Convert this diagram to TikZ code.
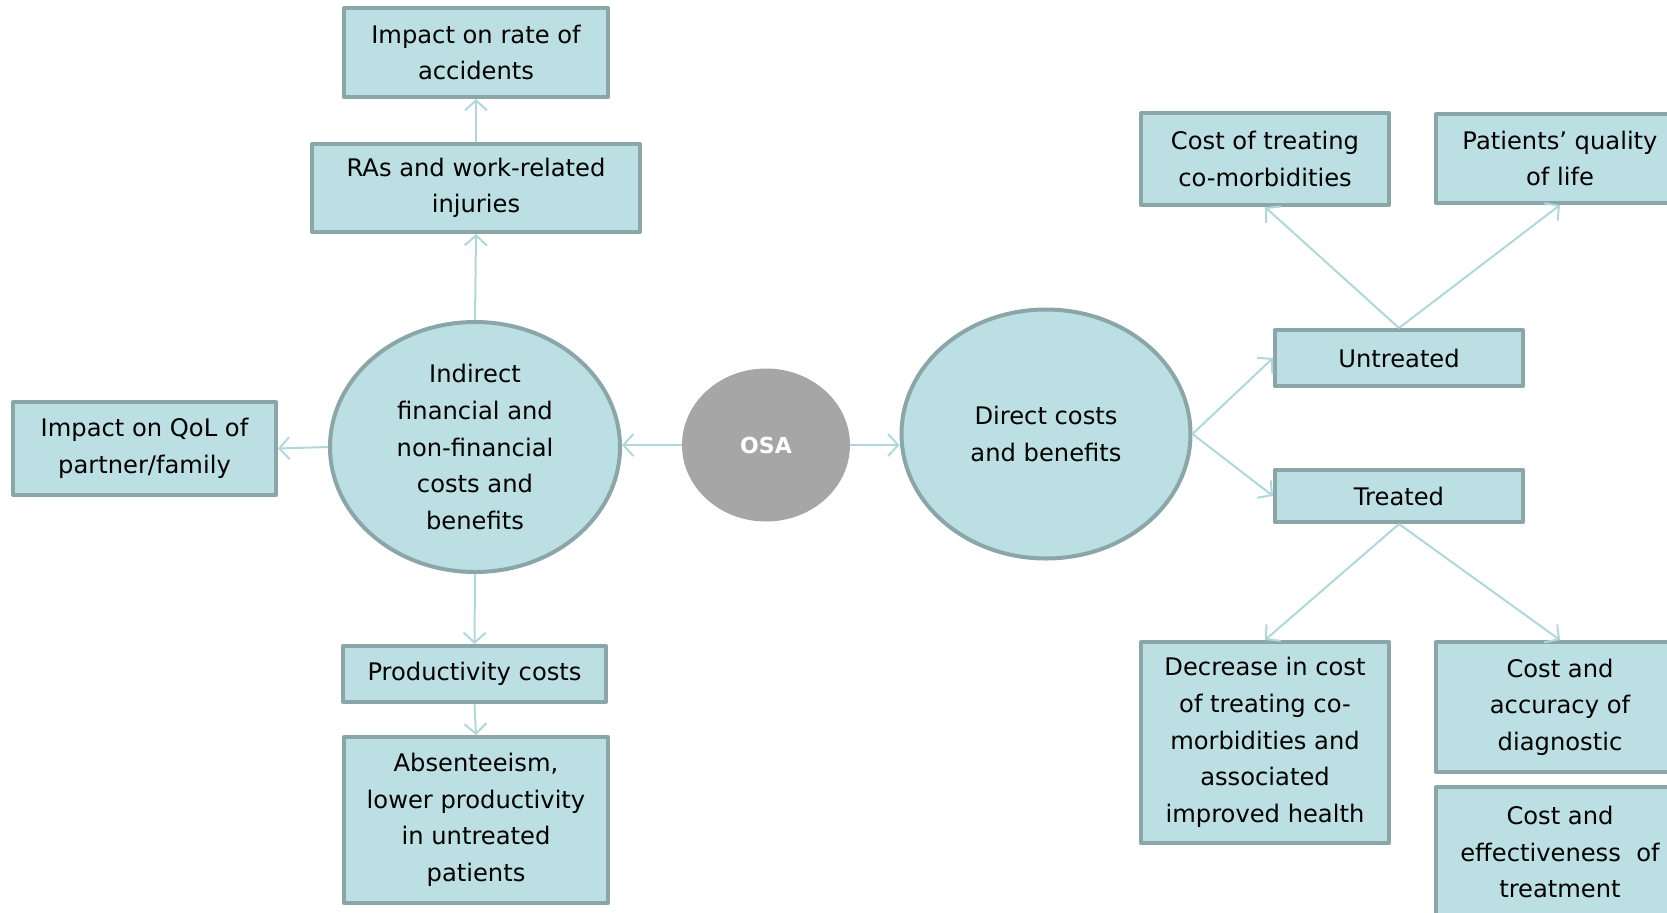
\documentclass[tikz,border=0pt]{standalone}
\usepackage{fontspec}
\setmainfont{DejaVu Sans}
\usetikzlibrary{arrows.meta,shapes.geometric}
\definecolor{boxfill}{HTML}{BBDFE3}
\definecolor{boxline}{HTML}{8BA6A9}
\definecolor{linkcol}{HTML}{B0D8DC}
\definecolor{osagray}{HTML}{A6A6A6}
\begin{document}
\begin{tikzpicture}[x=0.5pt,y=-0.5pt,line join=round,
  >={Straight Barb[length=5pt,width=11pt]},
  box/.style={draw=boxline,fill=boxfill,line width=2pt,rectangle,align=center,inner sep=0pt,
    font=\fontsize{12.1}{18.3}\selectfont},
  oval/.style={draw=boxline,fill=boxfill,line width=2pt,ellipse,align=center,inner sep=0pt,
    font=\fontsize{12.1}{18.3}\selectfont},
  link/.style={->,draw=linkcol,line width=1pt}]
 \useasboundingbox (0,0) rectangle (1667,912);
 \clip (0,0) rectangle (1667,912);
 % centre
 \node[ellipse,fill=osagray,minimum width=84pt,minimum height=76.5pt,text=white,
   font=\fontsize{11}{13}\selectfont\bfseries] (osa) at (766,445) {OSA};
 % indirect side
 \node[oval,minimum width=145pt,minimum height=125pt] (ind) at (475,447) {Indirect\\financial and\\non-financial\\costs and\\benefits};
 \node[box,minimum width=164pt,minimum height=44pt] (ras) at (476,188) {RAs and work-related\\injuries};
 \node[box,minimum width=132pt,minimum height=44.5pt] (acc) at (476,52.5) {Impact on rate of\\accidents};
 \node[box,minimum width=131.5pt,minimum height=46.5pt] (qol) at (144.5,448.5) {Impact on QoL of\\partner/family};
 \node[box,minimum width=131.5pt,minimum height=28pt] (prod) at (474.5,674) {Productivity costs};
 \node[box,minimum width=132pt,minimum height=83pt] (abs) at (476,820) {Absenteeism,\\lower productivity\\in untreated\\patients};
 % direct side
 \node[oval,minimum width=144.5pt,minimum height=124.5pt] (dir) at (1046,434) {Direct costs\\and benefits};
 \node[box,minimum width=124pt,minimum height=28pt] (untr) at (1399,358) {Untreated};
 \node[box,minimum width=124pt,minimum height=26pt] (trt) at (1399,496) {Treated};
 \node[box,minimum width=124pt,minimum height=46pt] (como) at (1265,159) {Cost of treating\\co-morbidities};
 \node[box,minimum width=124pt,minimum height=44.5pt] (qual) at (1560,158.5) {Patients’ quality\\of life};
 \node[box,minimum width=124pt,minimum height=100.5pt] (decr) at (1265,742.5) {Decrease in cost\\of treating co-\\morbidities and\\associated\\improved health};
 \node[box,minimum width=124pt,minimum height=65pt] (diag) at (1560,707) {Cost and\\accuracy of\\diagnostic};
 \node[box,minimum width=124pt,minimum height=65pt] (eff) at (1560,852) {Cost and\\effectiveness~~of\\treatment};
 % connectors
 \draw[link] (osa.west) -- (ind.east |- osa.west);
 \draw[link] (osa.east) -- (dir.west |- osa.east);
 \draw[link] (ind.north) -- (ras.south);
 \draw[link] (ras.north) -- (acc.south);
 \draw[link] (ind.west) -- (qol.east);
 \draw[link] (ind.south) -- (prod.north);
 \draw[link] (prod.south) -- (abs.north);
 \draw[link] (dir.east) -- (untr.west);
 \draw[link] (dir.east) -- (trt.west);
 \draw[link] (untr.north) -- (como.south);
 \draw[link] (untr.north) -- (qual.south);
 \draw[link] (trt.south) -- (decr.north);
 \draw[link] (trt.south) -- (diag.north);
\end{tikzpicture}
\end{document}
